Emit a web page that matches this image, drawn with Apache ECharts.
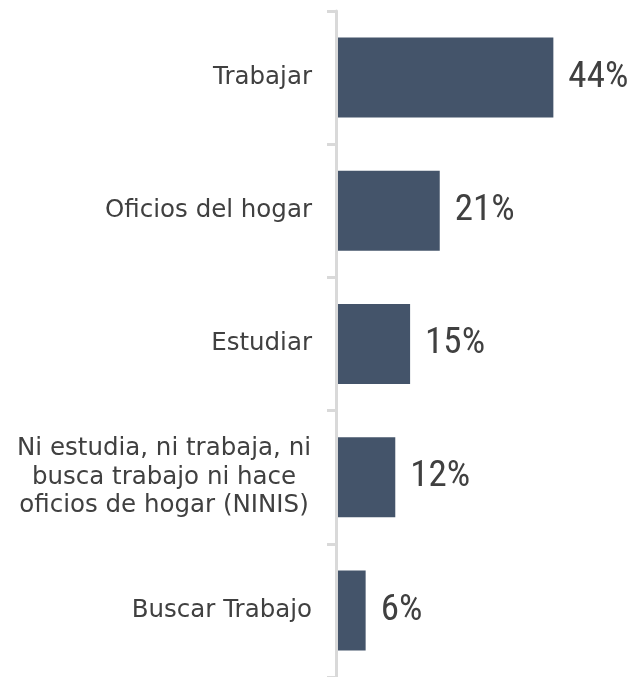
<!DOCTYPE html>
<html>
<head>
<meta charset="utf-8">
<script src="https://cdn.jsdelivr.net/npm/echarts@6/dist/echarts.min.js"></script>
<style>html,body{margin:0;padding:0;background:#fff;}#c{width:634px;height:677px;}</style>
</head>
<body>
<div id="c"></div>
<script>
const categories = [
  'Trabajar',
  'Oficios del hogar',
  'Estudiar',
  'Ni estudia, ni trabaja, ni\nbusca trabajo ni hace\noficios de hogar (NINIS)',
  'Buscar Trabajo'
];
const values = [44, 21, 15, 12, 6];

const labelFont = '"DejaVu Sans", Verdana, sans-serif';
const chart = echarts.init(document.getElementById('c'));
chart.setOption({
  animation: false,
  backgroundColor: '#ffffff',
  grid: { left: 336, right: 51, top: 11, bottom: 0 },
  xAxis: { type: 'value', min: 0, max: 50, show: false },
  yAxis: {
    type: 'category',
    data: categories,
    inverse: true,
    z: 3,
    axisLine: { show: true, lineStyle: { color: '#d9d9d9', width: 3 } },
    axisTick: { show: true, length: 9, lineStyle: { color: '#d9d9d9', width: 3 } },
    axisLabel: {
      margin: 24,
      color: '#404040',
      fontFamily: labelFont,
      fontSize: 24.5,
      lineHeight: 28.5,
      formatter: function (v) {
        if (v.indexOf('\n') < 0) return v;
        return v.split('\n').map(function (l) { return '{c|' + l + '}'; }).join('\n');
      },
      rich: {
        c: { width: 296, align: 'center', fontFamily: labelFont, fontSize: 24.5, lineHeight: 28.5, color: '#404040' }
      }
    }
  },
  series: [{
    type: 'bar',
    data: values,
    barWidth: 80,
    itemStyle: { color: '#44546a' },
    label: {
      show: true,
      position: 'right',
      distance: 15,
      formatter: '{c}%',
      color: '#404040',
      fontFamily: '"Roboto Condensed", "Liberation Sans", sans-serif',
      fontSize: 37
    }
  }]
});
</script>
</body>
</html>
